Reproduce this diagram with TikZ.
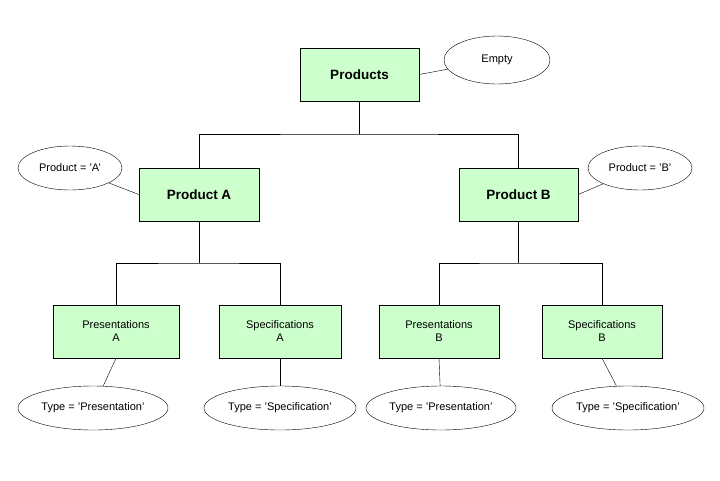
\documentclass[tikz,border=0pt]{standalone}
\usepackage{fontspec}
\setmainfont{Liberation Sans}
\usetikzlibrary{shapes.geometric}
\begin{document}
\begin{tikzpicture}[x=1pt,y=-1pt,
  box/.style={draw,fill={rgb,255:red,204;green,255;blue,204},inner sep=0pt,align=center,font=\fontsize{11}{13}\selectfont},
  bigbox/.style={box,font=\fontsize{13.5}{16}\selectfont\bfseries},
  ell/.style={draw,ellipse,inner sep=0pt,font=\fontsize{11}{13}\selectfont}]
\useasboundingbox (0,0) rectangle (720,480);
\node[bigbox,minimum width=119,minimum height=53] (p) at (359.5,74.5) {Products};
\node[bigbox,minimum width=120,minimum height=53] (a) at (199,194.5) {Product A};
\node[bigbox,minimum width=119,minimum height=53] (b) at (518.5,194.5) {Product B};
\node[box,minimum width=126,minimum height=53] (pa) at (116,331.5) {Presentations\\A};
\node[box,minimum width=122,minimum height=53] (sa) at (280,331.5) {Specifications\\A};
\node[box,minimum width=120,minimum height=53] (pb) at (439,331.5) {Presentations\\B};
\node[box,minimum width=120,minimum height=53] (sb) at (602,331.5) {Specifications\\B};
\node[ell,minimum width=106,minimum height=48] (e0) at (497,60) {Empty};
\node[ell,minimum width=104,minimum height=44] (ea) at (70,168) {Product = 'A'};
\node[ell,minimum width=104,minimum height=44] (eb) at (640,168) {Product = 'B'};
\node[ell,minimum width=150,minimum height=44] (e1) at (93,408) {Type = 'Presentation'};
\node[ell,minimum width=152,minimum height=44] (e2) at (280,408) {Type = 'Specification'};
\node[ell,minimum width=150,minimum height=44] (e3) at (441,408) {Type = 'Presentation'};
\node[ell,minimum width=152,minimum height=44] (e4) at (628,408) {Type = 'Specification'};
\coordinate (j1) at (359.5,134);
\coordinate (j2) at (199,263);
\coordinate (j3) at (518.5,263);
\draw (p.south) -- (j1);
\draw (a.north) |- (j1) -| (b.north);
\draw (a.south) -- (j2);
\draw (pa.north) |- (j2) -| (sa.north);
\draw (b.south) -- (j3);
\draw (pb.north) |- (j3) -| (sb.north);
\draw (p.east) -- (e0);
\draw (a.west) -- (ea);
\draw (b.east) -- (eb);
\draw (pa.south) -- (e1);
\draw (sa.south) -- (e2);
\draw (pb.south) -- (e3);
\draw (sb.south) -- (e4);
\end{tikzpicture}
\end{document}
